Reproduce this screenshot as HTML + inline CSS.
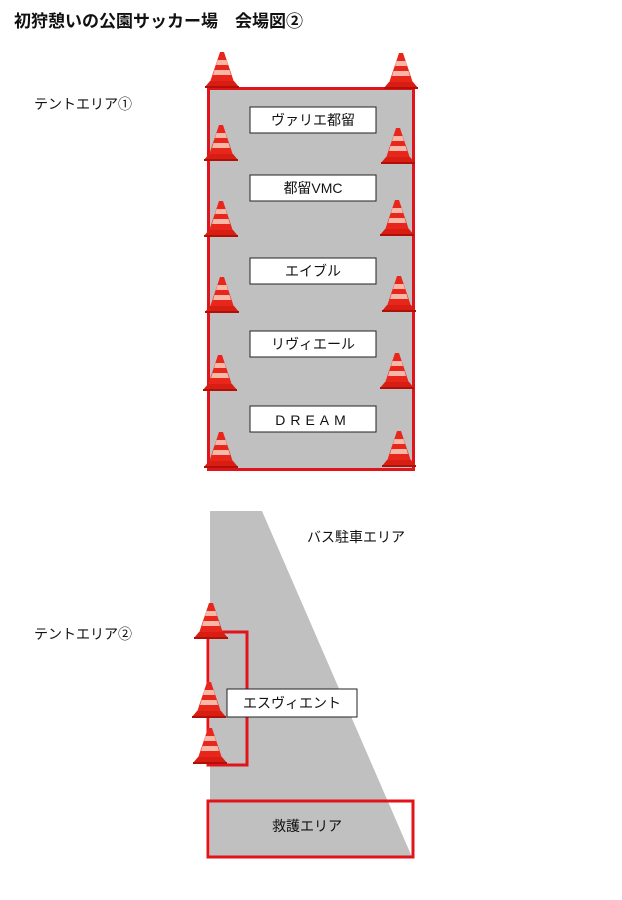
<!DOCTYPE html>
<html><head><meta charset="utf-8">
<style>
body{margin:0;background:#fff;}
svg{display:block;font-family:"Liberation Sans","Noto Sans CJK JP",sans-serif;}
</style></head><body>
<svg width="622" height="900" viewBox="0 0 622 900" xmlns="http://www.w3.org/2000/svg">
<defs>
<g id="cone">
<polygon points="-2,0 2,0 12,30 -12,30" fill="#e8261c"/>
<polygon points="-4.5,8 4.5,8 6,13 -6,13" fill="#f7b8a8"/>
<polygon points="-7.5,18 7.5,18 9,23 -9,23" fill="#f7b8a8"/>
<polygon points="-12,29 12,29 17,35 -17,35" fill="#d81e12"/>
<rect x="-17" y="34" width="34" height="2" fill="#b01008"/>
</g>
</defs>
<text x="14" y="27" font-size="17" font-weight="bold" fill="#111">初狩憩いの公園サッカー場　会場図②</text>
<text x="34" y="109" font-size="14" fill="#111">テントエリア①</text>
<text x="34" y="639" font-size="14" fill="#111">テントエリア②</text>
<text x="307" y="542" font-size="14" fill="#111">バス駐車エリア</text>

<rect x="208.5" y="88.5" width="205" height="381" fill="#c0c0c0" stroke="#e0141a" stroke-width="3"/>
<g font-size="14" fill="#111" text-anchor="middle">
<rect x="250" y="107" width="126" height="26" fill="#fff" stroke="#222"/><text x="313" y="125">ヴァリエ都留</text>
<rect x="250" y="175" width="126" height="26" fill="#fff" stroke="#222"/><text x="313" y="193">都留VMC</text>
<rect x="250" y="258" width="126" height="26" fill="#fff" stroke="#222"/><text x="313" y="276">エイブル</text>
<rect x="250" y="331" width="126" height="26" fill="#fff" stroke="#222"/><text x="313" y="349">リヴィエール</text>
<rect x="250" y="406" width="126" height="26" fill="#fff" stroke="#222"/><text x="313" y="425" letter-spacing="5">DREAM</text>
</g>
<use href="#cone" x="222" y="52"/><use href="#cone" x="401" y="53"/>
<use href="#cone" x="221" y="125"/><use href="#cone" x="398" y="128"/>
<use href="#cone" x="221" y="201"/><use href="#cone" x="397" y="200"/>
<use href="#cone" x="222" y="277"/><use href="#cone" x="399" y="276"/>
<use href="#cone" x="220" y="355"/><use href="#cone" x="397" y="353"/>
<use href="#cone" x="221" y="432"/><use href="#cone" x="399" y="431"/>

<polygon points="210,511 262,511 412,857 210,857" fill="#c0c0c0"/>
<rect x="208" y="632" width="39" height="133" fill="none" stroke="#e0141a" stroke-width="3"/>
<rect x="208" y="801" width="205" height="56" fill="none" stroke="#e0141a" stroke-width="3"/>
<use href="#cone" x="211" y="603"/><use href="#cone" x="209" y="682"/><use href="#cone" x="210" y="728"/>
<rect x="227" y="689" width="130" height="28" fill="#fff" stroke="#222"/>
<text x="292" y="708" font-size="14" fill="#111" text-anchor="middle">エスヴィエント</text>
<text x="307" y="831" font-size="14" fill="#111" text-anchor="middle">救護エリア</text>
</svg>
</body></html>
